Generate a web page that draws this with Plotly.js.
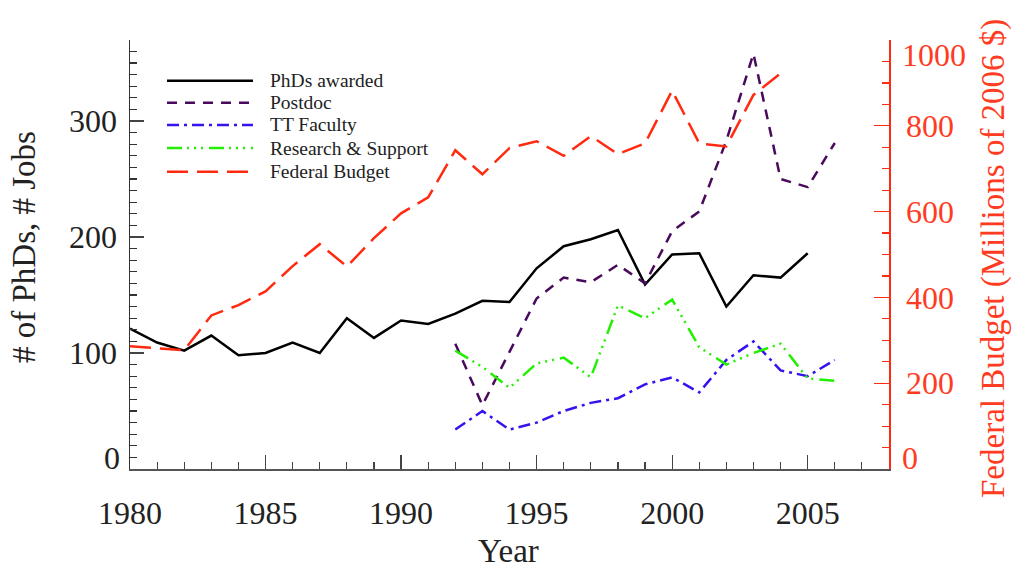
<!DOCTYPE html>
<html>
<head>
<meta charset="utf-8">
<script src="https://cdn.plot.ly/plotly-3.0.1.min.js"></script>
<style>
  html, body { margin: 0; padding: 0; background: #fff; }
  #chart { width: 1013px; height: 571px; }
</style>
</head>
<body>
<div id="chart"></div>
<script>
// ---------------- data ----------------
const yearsPhD = [1980,1981,1982,1983,1984,1985,1986,1987,1988,1989,1990,1991,1992,1993,1994,1995,1996,1997,1998,1999,2000,2001,2002,2003,2004,2005];
const phdsAwarded = [121,109,102,115,98,100,109,100,130,113,128,125,134,145,144,173,192,198,206,159,185,186,140,167,165,186];

const yearsJobs = [1992,1993,1994,1995,1996,1997,1998,1999,2000,2001,2002,2003,2004,2005,2006];
const postdoc = [108,55,101,147,165,161,176,160,205,222,283,358,250,243,281];
const ttFaculty = [34,50,34,40,50,57,61,73,79,66,94,110,85,80,94];
const researchSupport = [102,88,70,91,96,79,141,130,146,105,90,100,108,78,76];

const yearsBudget = [1980,1981,1982,1983,1984,1985,1986,1987,1988,1989,1990,1991,1992,1993,1994,1995,1996,1997,1998,1999,2000,2001,2002,2003,2004];
const federalBudget = [286,281,277,358,382,414,473,524,472,538,596,633,743,687,748,764,730,776,734,759,882,759,752,872,922];

const seriesNames = ["PhDs awarded","Postdoc","TT Faculty","Research & Support","Federal Budget"];

const xTickVals = [1980,1985,1990,1995,2000,2005];
const xTickLabels = ["1980","1985","1990","1995","2000","2005"];
const leftTickVals = [0,100,200,300];
const leftTickLabels = ["0","100","200","300"];
const rightTickVals = [0,200,400,600,800,1000];
const rightTickLabels = ["0","200","400","600","800","1000"];

const xTitle = "Year";
const leftTitle = "# of PhDs, # Jobs";
const rightTitle = "Federal Budget (Millions of 2006 $)";

// ---------------- styles ----------------
const FONT = "'Liberation Serif', 'Times New Roman', serif";
const TXT = "#222";
const RED = "#ff2a10";
const RED_TXT = "#ff3b22";
const styles = [
  {color: "#000000", dash: "solid"},
  {color: "#4a0a5c", dash: "10px,8px"},
  {color: "#3314ee", dash: "12px,5px,3px,5px"},
  {color: "#22f000", dash: "15px,5px,2px,5px,2px,5px,2px,6px"},
  {color: RED, dash: "21px,9px"}
];
const LW = 2.5;

// geometry (pixels)
const W = 1013, H = 571;
const M = {l: 130, r: 124, t: 40, b: 102};
const PW = W - M.l - M.r, PH = H - M.t - M.b;
const px = x => (x - M.l) / PW;
const py = y => (H - M.b - y) / PH;

const traces = [
  {x: yearsPhD, y: phdsAwarded, name: seriesNames[0]},
  {x: yearsJobs, y: postdoc, name: seriesNames[1]},
  {x: yearsJobs, y: ttFaculty, name: seriesNames[2]},
  {x: yearsJobs, y: researchSupport, name: seriesNames[3]},
  {x: yearsBudget, y: federalBudget, name: seriesNames[4], yaxis: "y2"}
].map((t, i) => Object.assign({
  type: "scatter", mode: "lines", showlegend: false, hoverinfo: "skip",
  line: {color: styles[i].color, width: LW, dash: styles[i].dash}
}, t));

// manual legend (long line samples like the original)
const legendRows = [80.7, 102.7, 125, 148, 171.7];
const shapes = [];
const annotations = [];
seriesNames.forEach((n, i) => {
  shapes.push({type: "line", xref: "paper", yref: "paper",
    x0: px(167), x1: px(253), y0: py(legendRows[i]), y1: py(legendRows[i]),
    line: {color: styles[i].color, width: LW, dash: styles[i].dash}});
  annotations.push({xref: "paper", yref: "paper", x: px(269), y: py(legendRows[i]),
    xanchor: "left", yanchor: "middle", showarrow: false, text: n, borderpad: 0,
    font: {family: FONT, size: 19.5, color: TXT}});
});

// end tick labels (shifted inward like the original)
annotations.push({xref: "paper", yref: "y", x: 0, y: leftTickVals[0], xshift: -8, yshift: 11,
  xanchor: "right", yanchor: "middle", showarrow: false, text: leftTickLabels[0],
  font: {family: FONT, size: 32, color: TXT}});
annotations.push({xref: "paper", yref: "y2", x: 1, y: rightTickVals[0], xshift: 11, yshift: 11,
  xanchor: "left", yanchor: "middle", showarrow: false, text: rightTickLabels[0],
  font: {family: FONT, size: 32, color: RED_TXT}});
annotations.push({xref: "paper", yref: "y2", x: 1, y: rightTickVals[rightTickVals.length-1], xshift: 11, yshift: -15,
  xanchor: "left", yanchor: "middle", showarrow: false, text: rightTickLabels[rightTickLabels.length-1],
  font: {family: FONT, size: 32, color: RED_TXT}});

// axis titles
annotations.push({xref: "paper", yref: "paper", x: px(508), y: py(570), xanchor: "center", yanchor: "bottom",
  showarrow: false, text: xTitle, borderpad: 0, font: {family: FONT, size: 33, color: TXT}});
annotations.push({xref: "paper", yref: "paper", x: px(24), y: py(247), xanchor: "center", yanchor: "middle",
  textangle: -90, showarrow: false, text: leftTitle, font: {family: FONT, size: 33, color: TXT}});
annotations.push({xref: "paper", yref: "paper", x: px(993), y: py(259), xanchor: "center", yanchor: "middle",
  textangle: -90, showarrow: false, text: rightTitle, font: {family: FONT, size: 33, color: RED_TXT}});

const blank = a => a.map((s, i) => (i === 0 ? "" : s));
const blankEnds = a => a.map((s, i) => (i === 0 || i === a.length - 1 ? "" : s));

const layout = {
  width: W, height: H,
  margin: M,
  paper_bgcolor: "#fff", plot_bgcolor: "#fff",
  showlegend: false,
  font: {family: FONT, size: 32, color: TXT},
  xaxis: {
    range: [1980, 2008], showgrid: false, zeroline: false,
    showline: true, linecolor: "#555", linewidth: 1.5,
    ticks: "inside", ticklen: 14, tickwidth: 1.2, tickcolor: "#444",
    tickvals: xTickVals, ticktext: xTickLabels,
    tickfont: {family: FONT, size: 32, color: TXT},
    ticklabelstandoff: 15,
    minor: {dtick: 1, ticks: "inside", ticklen: 7, tickcolor: "#444", tickwidth: 1.2, showgrid: false}
  },
  xaxis2: {
    range: [1980, 2008], overlaying: "x", side: "top", anchor: "y",
    showgrid: false, zeroline: false, showline: true, linecolor: "#222", linewidth: 1.5,
    ticks: "inside", ticklen: 8, tickwidth: 1.2, tickcolor: "#222",
    tickvals: xTickVals, showticklabels: false,
    minor: {dtick: 1, ticks: "inside", ticklen: 4, tickcolor: "#222", tickwidth: 1.2, showgrid: false}
  },
  yaxis: {
    range: [0, 369.8], showgrid: false, zeroline: false,
    showline: true, linecolor: "#333", linewidth: 1.5,
    ticks: "inside", ticklen: 14, tickwidth: 1.2, tickcolor: "#444",
    tickvals: leftTickVals, ticktext: blank(leftTickLabels),
    tickfont: {family: FONT, size: 32, color: TXT},
    ticklabelstandoff: 5,
    minor: {dtick: 10, ticks: "inside", ticklen: 7, tickcolor: "#333", tickwidth: 1.2, showgrid: false}
  },
  yaxis2: {
    range: [0, 1000], overlaying: "y", side: "right", anchor: "x",
    showgrid: false, zeroline: false,
    showline: true, linecolor: RED, linewidth: 1.5,
    ticks: "inside", ticklen: 15, tickwidth: 1.2, tickcolor: RED,
    tickvals: rightTickVals, ticktext: blankEnds(rightTickLabels),
    tickfont: {family: FONT, size: 32, color: RED_TXT},
    ticklabelstandoff: 9,
    minor: {dtick: 50, ticks: "inside", ticklen: 7.5, tickcolor: RED, tickwidth: 1.2, showgrid: false}
  },
  shapes: shapes,
  annotations: annotations
};

Plotly.newPlot("chart", traces, layout, {displayModeBar: false, staticPlot: true});
</script>
</body>
</html>
